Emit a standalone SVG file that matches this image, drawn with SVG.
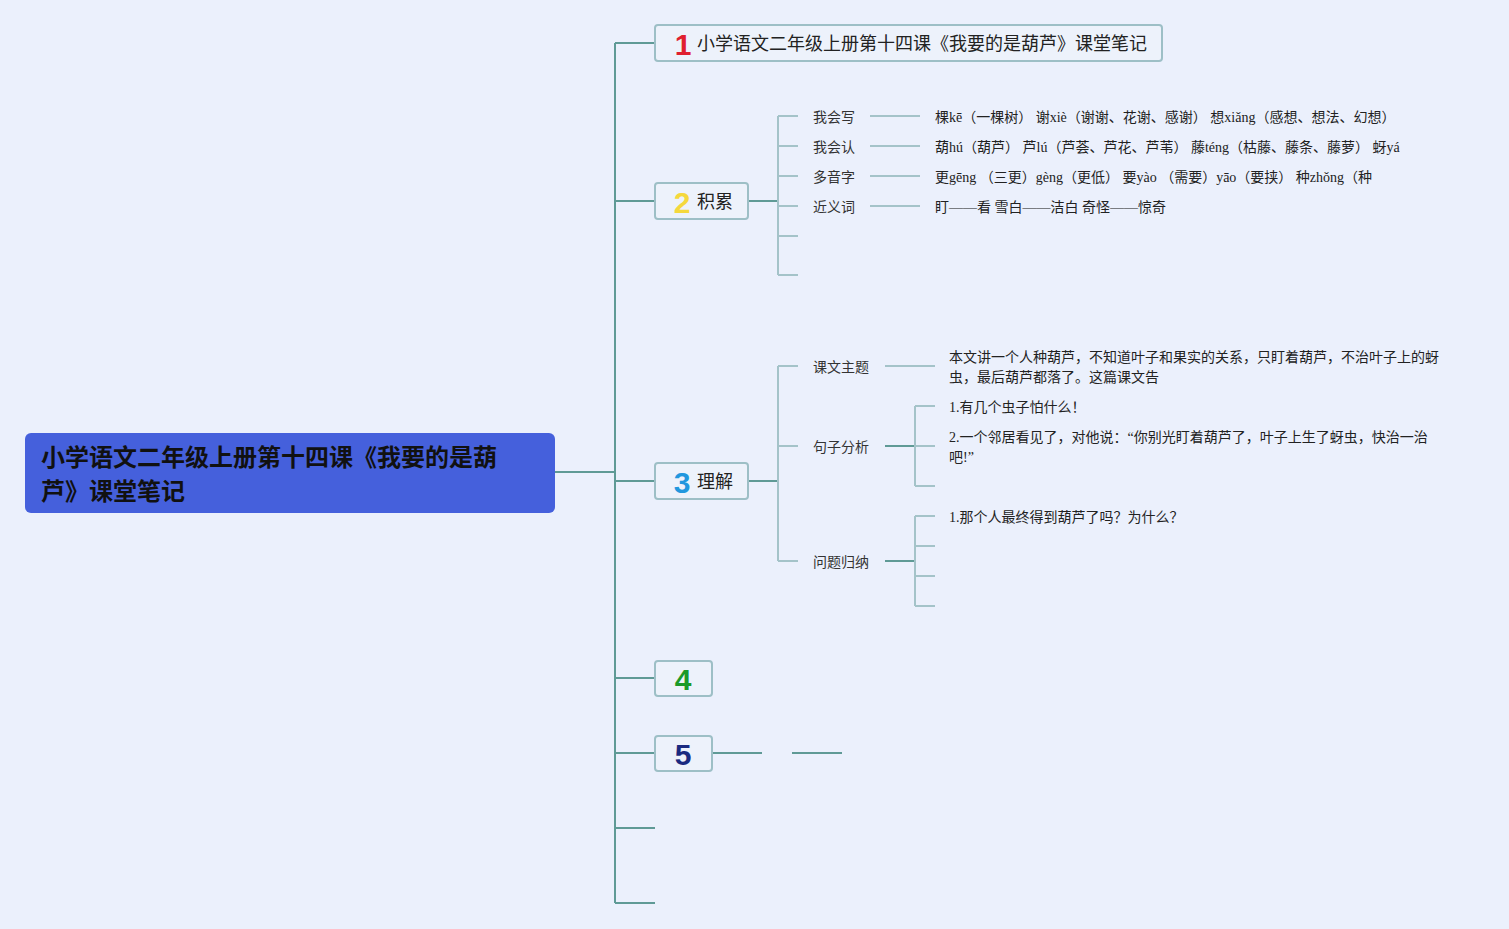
<svg xmlns="http://www.w3.org/2000/svg" width="1509" height="929" viewBox="0 0 1509 929">
<style>
.bg{fill:#ebf0fc}
.box{fill:#edf2fb;stroke:#9dbfc6;stroke-width:2}
.dk{stroke:#5f9a96;stroke-width:2;fill:none}
.lt{stroke:#a4c3c9;stroke-width:2;fill:none}
.tp{font-family:"Liberation Sans","Noto Sans CJK SC",sans-serif;font-size:18px;fill:#222}
.num{font-family:"Liberation Sans",Arial,sans-serif;font-size:30px;font-weight:bold;text-anchor:middle}
.lb{font-family:"Noto Sans CJK SC",sans-serif;font-size:14px;fill:#333}
.dt{font-family:"Liberation Serif","Noto Sans CJK SC",serif;font-size:14px;fill:#222}
.root{font-family:"Noto Sans CJK SC",sans-serif;font-size:24px;font-weight:bold;fill:#111}
</style>
<rect class="bg" x="0" y="0" width="1509" height="929"/>
<g id="connectors">
<path class="dk" d="M555,472H615"/>
<path class="dk" d="M615,43V903"/>
<path class="dk" d="M615,43H655M615,201H655M615,481H655M615,678H655M615,753H655M615,828H655M615,903H655"/>
<path class="dk" d="M748,201H778"/>
<path class="lt" d="M778,116V275M778,116H798M778,146H798M778,176H798M778,206H798M778,236H798M778,275H798"/>
<path class="lt" d="M870,116H920M870,146H920M870,176H920M870,206H920"/>
<path class="dk" d="M748,481H778"/>
<path class="lt" d="M778,366V561M778,366H798M778,446H798M778,561H798"/>
<path class="lt" d="M885,366H935"/>
<path class="dk" d="M885,446H915"/>
<path class="lt" d="M915,406V486M915,406H935M915,446H935M915,486H935"/>
<path class="dk" d="M885,561H915"/>
<path class="lt" d="M915,516V606M915,516H935M915,546H935M915,576H935M915,606H935"/>
<path class="dk" d="M712,753H762M792,753H842"/>
</g>
<g id="root">
<rect x="25" y="433" width="530" height="80" rx="6" fill="#4560dc"/>
<text class="root" x="41" y="466">小学语文二年级上册第十四课《我要的是葫</text>
<text class="root" x="41" y="500">芦》课堂笔记</text>
</g>
<g id="t1">
<rect class="box" x="655" y="25" width="507" height="36" rx="3"/>
<text class="num" x="683" y="55" fill="#e0202f">1</text>
<text class="tp" x="697" y="50">小学语文二年级上册第十四课《我要的是葫芦》课堂笔记</text>
</g>
<g id="t2">
<rect class="box" x="655" y="183" width="93" height="36" rx="3"/>
<text class="num" x="682" y="213" fill="#f5d83c">2</text>
<text class="tp" x="697" y="208">积累</text>
</g>
<g id="t2-items">
<text class="lb" x="813" y="122">我会写</text>
<text class="lb" x="813" y="152">我会认</text>
<text class="lb" x="813" y="182">多音字</text>
<text class="lb" x="813" y="212">近义词</text>
<text class="dt" x="935" y="122">棵kē（一棵树） 谢xiè（谢谢、花谢、感谢） 想xiǎng（感想、想法、幻想）</text>
<text class="dt" x="935" y="152">葫hú（葫芦） 芦lú（芦荟、芦花、芦苇） 藤téng（枯藤、藤条、藤萝） 蚜yá</text>
<text class="dt" x="935" y="182">更gēng （三更）gèng（更低） 要yào （需要）yāo（要挟） 种zhǒng（种</text>
<text class="dt" x="935" y="212">盯——看 雪白——洁白 奇怪——惊奇</text>
</g>
<g id="t3">
<rect class="box" x="655" y="463" width="93" height="36" rx="3"/>
<text class="num" x="682" y="493" fill="#2197de">3</text>
<text class="tp" x="697" y="488">理解</text>
</g>
<g id="t3-items">
<text class="lb" x="813" y="372">课文主题</text>
<text class="lb" x="813" y="452">句子分析</text>
<text class="lb" x="813" y="567">问题归纳</text>
<text class="dt" x="949" y="362">本文讲一个人种葫芦，不知道叶子和果实的关系，只盯着葫芦，不治叶子上的蚜</text>
<text class="dt" x="949" y="382">虫，最后葫芦都落了。这篇课文告</text>
<text class="dt" x="949" y="412">1.有几个虫子怕什么！</text>
<text class="dt" x="949" y="442">2.一个邻居看见了，对他说：“你别光盯着葫芦了，叶子上生了蚜虫，快治一治</text>
<text class="dt" x="949" y="462">吧!”</text>
<text class="dt" x="949" y="522">1.那个人最终得到葫芦了吗？为什么？</text>
</g>
<g id="t4">
<rect class="box" x="655" y="661" width="57" height="35" rx="3"/>
<text class="num" x="683" y="690" fill="#1b9a2a">4</text>
</g>
<g id="t5">
<rect class="box" x="655" y="736" width="57" height="35" rx="3"/>
<text class="num" x="683" y="765" fill="#1a2a80">5</text>
</g>
</svg>
